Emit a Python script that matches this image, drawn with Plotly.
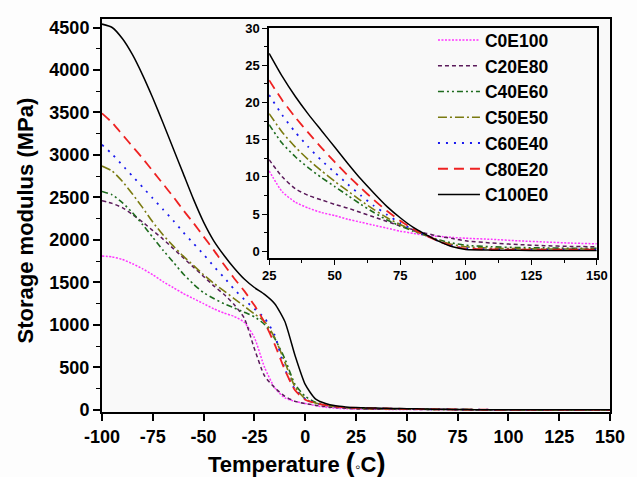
import plotly.graph_objects as go

# ---------------- data ----------------
temp_main = [-100, -95, -90, -85, -80, -75, -70, -65, -60, -55, -50, -45, -40,
             -35, -30, -25, -20, -15, -10, -5, 0, 5, 10, 15, 20]
temp_inset = [25, 30, 35, 40, 45, 50, 55, 60, 65, 70, 75, 80, 85, 90, 95, 100,
              110, 120, 130, 140, 150]

names = ["C0E100", "C20E80", "C40E60", "C50E50", "C60E40", "C80E20", "C100E0"]

c0e100_main = [1810, 1800, 1770, 1720, 1660, 1590, 1510, 1440, 1370, 1310, 1250, 1190, 1140,
               1100, 1030, 850, 500, 260, 140, 100, 75, 50, 30, 20, 14]
c20e80_main = [2460, 2430, 2380, 2300, 2210, 2110, 2010, 1900, 1790, 1680, 1570, 1460, 1360,
               1240, 1080, 720, 400, 260, 160, 100, 75, 55, 38, 27, 19]
c40e60_main = [2570, 2530, 2440, 2320, 2180, 2030, 1880, 1740, 1600, 1480, 1380, 1310, 1250,
               1200, 1150, 1095, 1005, 840, 600, 300, 160, 90, 60, 40, 26]
c50e50_main = [2870, 2810, 2690, 2540, 2380, 2210, 2060, 1930, 1810, 1700, 1590, 1490, 1400,
               1310, 1220, 1130, 1040, 850, 560, 270, 130, 80, 55, 38, 26]
c60e40_main = [3120, 3010, 2880, 2750, 2620, 2490, 2360, 2230, 2090, 1960, 1830, 1690, 1560,
               1420, 1300, 1190, 1080, 880, 480, 240, 130, 80, 55, 38, 27]
c80e20_main = [3490, 3380, 3240, 3100, 2960, 2810, 2660, 2510, 2350, 2200, 2040, 1880, 1710,
               1550, 1400, 1230, 1030, 770, 470, 230, 120, 80, 55, 38, 28]
c100e0_main = [4540, 4500, 4370, 4180, 3940, 3670, 3380, 3080, 2780, 2480, 2210, 1990, 1820,
               1670, 1540, 1440, 1360, 1250, 1040, 640, 300, 130, 75, 48, 35]

c0e100_inset = [10.8, 8.0, 6.6, 5.8, 5.2, 4.8, 4.3, 3.9, 3.5, 3.1, 2.7, 2.4, 2.1, 2.0, 1.85,
                1.75, 1.6, 1.4, 1.25, 1.1, 1.0]
c20e80_inset = [12.3, 10.0, 8.4, 7.5, 6.9, 6.3, 5.8, 5.2, 4.6, 4.0, 3.4, 2.9, 2.4, 2.0, 1.7,
                1.4, 1.1, 0.9, 0.75, 0.65, 0.6]
c40e60_inset = [17.0, 14.5, 12.7, 11.2, 9.9, 8.7, 7.5, 6.3, 5.2, 4.2, 3.4, 2.7, 2.1, 1.5, 1.1,
                0.8, 0.6, 0.5, 0.45, 0.4, 0.4]
c50e50_inset = [18.5, 16.0, 14.0, 12.3, 10.8, 9.4, 8.1, 6.8, 5.6, 4.5, 3.6, 2.8, 2.1, 1.4, 0.9,
                0.6, 0.4, 0.35, 0.3, 0.3, 0.3]
c60e40_inset = [21.0, 18.3, 16.0, 14.0, 12.2, 10.6, 9.0, 7.5, 6.1, 4.9, 3.8, 2.9, 2.1, 1.3, 0.7,
                0.4, 0.25, 0.2, 0.2, 0.2, 0.2]
c80e20_inset = [23.0, 20.3, 18.0, 15.9, 13.9, 12.0, 10.2, 8.5, 6.9, 5.4, 4.1, 3.0, 2.1, 1.3, 0.7,
                0.35, 0.25, 0.2, 0.2, 0.2, 0.2]
c100e0_inset = [26.6, 23.5, 20.8, 18.4, 16.2, 14.0, 11.8, 9.7, 7.8, 6.0, 4.5, 3.2, 2.2, 1.3, 0.6,
                0.25, 0.15, 0.12, 0.1, 0.1, 0.1]

main_series = [c0e100_main, c20e80_main, c40e60_main, c50e50_main, c60e40_main, c80e20_main, c100e0_main]
inset_series = [c0e100_inset, c20e80_inset, c40e60_inset, c50e50_inset, c60e40_inset, c80e20_inset, c100e0_inset]

y_ticks_main = [0, 500, 1000, 1500, 2000, 2500, 3000, 3500, 4000, 4500]
x_ticks_main = [-100, -75, -50, -25, 0, 25, 50, 75, 100, 125, 150]
x_ticktext_main = ["-100", "-75", "-50", "-25", "0", "25", "50", "75", "100", "125", "150"]
y_ticks_inset = [0, 5, 10, 15, 20, 25, 30]
x_ticks_inset = [25, 50, 75, 100, 125, 150]

# ---------------- styles ----------------
colors = ["#ff33ff", "#5a1a5a", "#1e6b1e", "#7a7a10", "#1a1aee", "#ee2222", "#000000"]
dashes = ["2px,1.5px", "4px,3px", "6px,3px,2px,3px,2px,3px", "9px,3px,2px,3px",
          "2px,6px", "10px,6px", "solid"]
widths = [1.5, 1.5, 1.6, 1.6, 1.8, 1.8, 1.5]

FONT = "Liberation Sans, Arial, sans-serif"

fig = go.Figure()
for i, name in enumerate(names):
    fig.add_trace(go.Scatter(
        x=temp_main + temp_inset, y=main_series[i] + inset_series[i],
        mode="lines", name=name,
        line=dict(color=colors[i], dash=dashes[i], width=widths[i], shape="spline", smoothing=0.6),
        xaxis="x", yaxis="y", showlegend=True))
for i, name in enumerate(names):
    fig.add_trace(go.Scatter(
        x=temp_inset, y=inset_series[i],
        mode="lines", name=name,
        line=dict(color=colors[i], dash=dashes[i], width=widths[i], shape="spline", smoothing=0.6),
        xaxis="x2", yaxis="y2", showlegend=False))

axis_common = dict(showline=True, linecolor="black", mirror=True, ticks="outside",
                   tickcolor="black", showgrid=False, zeroline=False)

fig.update_layout(
    width=637, height=477,
    margin=dict(l=102, r=16, t=14, b=65),
    paper_bgcolor="#fdfdfd", plot_bgcolor="#f9f9f9",
    font=dict(family=FONT, color="black"),
    xaxis=dict(**axis_common, range=[-100, 150], tickvals=x_ticks_main, ticktext=x_ticktext_main,
               linewidth=2, ticklen=7, tickwidth=1.5,
               tickfont=dict(size=18, family=FONT, weight="bold")),
    yaxis=dict(**axis_common, range=[-25, 4600], tickvals=y_ticks_main, linewidth=2,
               ticklen=7, tickwidth=1.5,
               minor=dict(dtick=250, tick0=0, ticklen=4, tickwidth=1.2, ticks="outside", tickcolor="black"),
               tickfont=dict(size=18, family=FONT, weight="bold")),
    xaxis2=dict(**axis_common, domain=[0.329, 0.974], anchor="y2", range=[25, 150],
                tickvals=x_ticks_inset, linewidth=1.5, ticklen=5, tickwidth=1.2,
                minor=dict(dtick=12.5, tick0=25, ticklen=3, tickwidth=1, ticks="outside", tickcolor="black"),
                tickfont=dict(size=13, family=FONT, weight="bold")),
    yaxis2=dict(**axis_common, domain=[0.392, 0.977], anchor="x2", range=[-0.9, 30],
                tickvals=y_ticks_inset, linewidth=1.5, ticklen=5, tickwidth=1.2,
                minor=dict(dtick=2.5, tick0=0, ticklen=3, tickwidth=1, ticks="outside", tickcolor="black"),
                tickfont=dict(size=13, family=FONT, weight="bold")),
    legend=dict(x=0.6515, y=0.992, xanchor="left", yanchor="top",
                bgcolor="rgba(0,0,0,0)", borderwidth=0, itemwidth=42,
                font=dict(size=17.5, family=FONT, weight="bold")),
    showlegend=True,
)

fig.add_annotation(
    text="Storage modulus (MPa)", xref="paper", yref="paper",
    x=-0.150, y=0.487, textangle=-90, showarrow=False,
    xanchor="center", yanchor="middle",
    font=dict(size=22, family=FONT, weight="bold"))
fig.add_annotation(
    text="Temperature <span style='font-size:28px'>(</span><span style='font-size:15px'>◦</span>C<span style='font-size:28px'>)</span>",
    xref="paper", yref="paper", x=0.383, y=-0.128, showarrow=False,
    xanchor="center", yanchor="middle",
    font=dict(size=22, family=FONT, weight="bold"))

fig.write_html("out.html")
